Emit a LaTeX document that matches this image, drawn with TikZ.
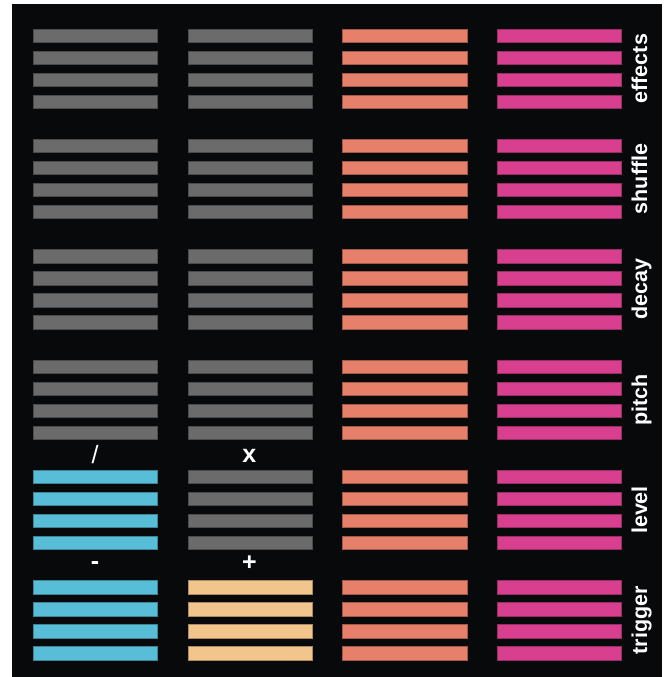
\documentclass[tikz,border=0pt]{standalone}
\usepackage{fontspec}
\setmainfont{Liberation Sans}
\definecolor{bg}{HTML}{08090B}
\definecolor{cgray}{HTML}{6B6B6B}
\definecolor{corange}{HTML}{E6806A}
\definecolor{cpink}{HTML}{D8408F}
\definecolor{ccyan}{HTML}{58BDD7}
\definecolor{cpeach}{HTML}{F2C58D}
\tikzset{
  bar/.style={draw=#1!70!black, fill=#1, line width=0.8pt},
  lbl/.style={text=white, font=\bfseries\fontsize{21.5}{21.5}\selectfont, rotate=90, anchor=base, inner sep=0pt},
  op/.style={text=white, font=\bfseries\fontsize{25}{25}\selectfont, inner sep=0pt, anchor=center}
}
\begin{document}
\begin{tikzpicture}[x=1pt,y=-1pt]
\useasboundingbox (0,0) rectangle (667,677);
\fill[white] (0,0) rectangle (667,677);
\fill[bg] (12,4) rectangle (662,677);
% bars
\foreach \g in {0,...,5}{
  \foreach \k in {0,...,3}{
    \pgfmathsetmacro{\yy}{29+\g*110.33+\k*22}
    % column 1
    \ifnum\g<4
      \draw[bar=cgray] (33.3,\yy) rectangle ++(124.3,13.3);
    \else
      \draw[bar=ccyan] (33.3,\yy) rectangle ++(124.3,13.3);
    \fi
    % column 2
    \ifnum\g<5
      \draw[bar=cgray] (188.3,\yy) rectangle ++(124.3,13.3);
    \else
      \draw[bar=cpeach] (188.3,\yy) rectangle ++(124.3,13.3);
    \fi
    % column 3
    \draw[bar=corange] (342.7,\yy) rectangle ++(124.3,13.3);
    % column 4
    \draw[bar=cpink] (497.3,\yy) rectangle ++(124.3,13.3);
  }
}
% labels
\node[lbl] (l0) at (647,68.65) {effects};
\node[lbl] (l1) at (647,178.98) {shuffle};
\node[lbl] (l2) at (647,289.31) {decay};
\node[lbl] (l3) at (647,399.64) {pitch};
\node[lbl] (l4) at (647,509.97) {level};
\node[lbl] (l5) at (647,620.3) {trigger};
% operators
\node[op, font=\fontsize{25}{25}\selectfont] (div) at (95,455) {/};
\node[op] (mul) at (249.3,455.5) {x};
\node[op] (sub) at (95,565.5) {-};
\node[op] (add) at (249.3,563.5) {+};
\end{tikzpicture}
\end{document}
